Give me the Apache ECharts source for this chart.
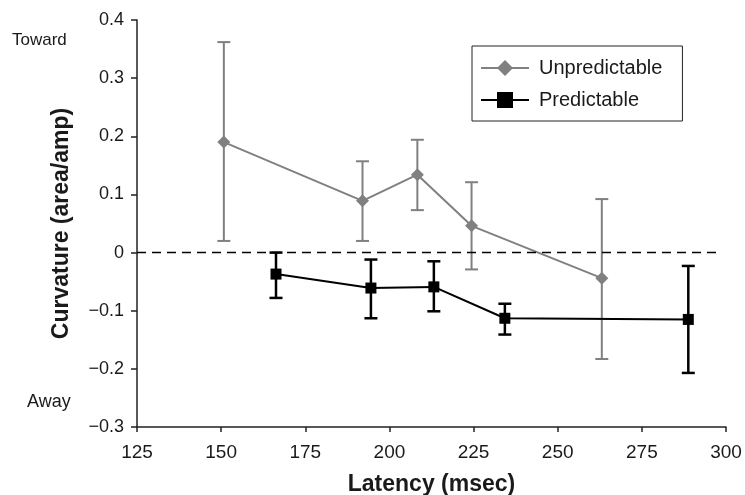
<!DOCTYPE html>
<html>
<head>
<meta charset="utf-8">
<script src="https://cdn.jsdelivr.net/npm/echarts@6/dist/echarts.min.js"></script>
<style>
html,body{margin:0;padding:0;background:#fff;}
#chartmain{width:745px;height:495px;}
</style>
</head>
<body>
<div id="chartmain"></div>
<script>
// 数据
var xTicks = [125, 150, 175, 200, 225, 250, 275, 300];
var yTicks = [-0.3, -0.2, -0.1, 0, 0.1, 0.2, 0.3, 0.4];

var unpredLatency = [150.8, 192.0, 208.3, 224.4, 263.1];
var unpredCurv    = [0.190, 0.089, 0.134, 0.046, -0.044];
var unpredLow     = [0.020, 0.020, 0.073, -0.029, -0.183];
var unpredHigh    = [0.362, 0.157, 0.194, 0.121, 0.092];

var predLatency = [166.3, 194.5, 213.2, 234.3, 288.8];
var predCurv    = [-0.037, -0.061, -0.059, -0.113, -0.115];
var predLow     = [-0.078, -0.113, -0.101, -0.141, -0.207];
var predHigh    = [0.000, -0.012, -0.015, -0.088, -0.023];

var grayColor = '#808080';
var font = 'Liberation Sans, Arial, sans-serif';

function pairs(xs, ys){
	var out = [];
	for (var i = 0; i < xs.length; i++) { out.push([xs[i], ys[i]]); }
	return out;
}
function triples(xs, lo, hi){
	var out = [];
	for (var i = 0; i < xs.length; i++) { out.push([xs[i], lo[i], hi[i]]); }
	return out;
}

// 误差线
function errorBar(color, width){
	return function(params, api){
		var x = api.value(0);
		var lo = api.coord([x, api.value(1)]);
		var hi = api.coord([x, api.value(2)]);
		var hw = 6.5;
		var style = {stroke: color, lineWidth: width};
		return {
			type: 'group',
			children: [
				{type: 'line', shape: {x1: lo[0], y1: lo[1], x2: hi[0], y2: hi[1]}, style: style},
				{type: 'line', shape: {x1: hi[0]-hw, y1: hi[1], x2: hi[0]+hw, y2: hi[1]}, style: style},
				{type: 'line', shape: {x1: lo[0]-hw, y1: lo[1], x2: lo[0]+hw, y2: lo[1]}, style: style}
			]
		};
	};
}

var myChart = echarts.init(document.getElementById('chartmain'));
var option = {
	backgroundColor: '#fff',
	animation: false,
	textStyle: {fontFamily: font, color: '#1a1a1a'},
	grid: {left: 137, right: 19, top: 20, bottom: 68, containLabel: false, outerBoundsMode: 'none'},
	legend: {
		data: ['Unpredictable', 'Predictable'],
		orient: 'vertical',
		left: 472,
		top: 46,
		padding: [12, 20, 11, 8],
		borderColor: '#222',
		borderWidth: 1,
		itemWidth: 48,
		itemHeight: 20,
		itemGap: 12,
		textStyle: {fontSize: 20, fontFamily: font, color: '#1a1a1a', padding: [0, 0, 0, 5]}
	},
	graphic: [
		{type: 'text', left: 12, top: 32, style: {text: 'Toward', fontSize: 17, fontFamily: font, fill: '#1a1a1a'}},
		{type: 'text', left: 27, top: 393, style: {text: 'Away', fontSize: 18, fontFamily: font, fill: '#1a1a1a'}}
	],
	xAxis: {
		type: 'value',
		min: xTicks[0],
		max: xTicks[xTicks.length - 1],
		interval: 25,
		name: 'Latency (msec)',
		nameLocation: 'middle',
		nameGap: 46,
		nameTextStyle: {fontSize: 23, fontWeight: 'bold', fontFamily: font, color: '#1a1a1a'},
		axisLine: {onZero: false, lineStyle: {color: '#222', width: 1.5}},
		axisTick: {show: true, length: 5, lineStyle: {color: '#222', width: 1.5}},
		axisLabel: {fontSize: 19, color: '#1a1a1a', margin: 16},
		splitLine: {show: false}
	},
	yAxis: {
		type: 'value',
		min: yTicks[0],
		max: yTicks[yTicks.length - 1],
		interval: 0.1,
		name: 'Curvature (area/amp)',
		nameLocation: 'middle',
		nameGap: 64,
		nameTextStyle: {fontSize: 23, fontWeight: 'bold', fontFamily: font, color: '#1a1a1a'},
		axisLine: {show: true, onZero: false, lineStyle: {color: '#222', width: 1.5}},
		axisTick: {show: true, length: 6, lineStyle: {color: '#222', width: 1.5}},
		axisLabel: {
			fontSize: 18, color: '#1a1a1a', margin: 13,
			formatter: function(v){
				if (Math.abs(v) < 1e-9) return '0';
				return v.toFixed(1).replace('-', '\u2212');
			}
		},
		splitLine: {show: false}
	},
	series: [
		{
			name: 'unpredErr',
			type: 'custom',
			renderItem: errorBar(grayColor, 2),
			data: triples(unpredLatency, unpredLow, unpredHigh),
			z: 1,
			silent: true
		},
		{
			name: 'predErr',
			type: 'custom',
			renderItem: errorBar('#000', 2.5),
			data: triples(predLatency, predLow, predHigh),
			z: 1,
			silent: true
		},
		{
			name: 'Unpredictable',
			type: 'line',
			data: pairs(unpredLatency, unpredCurv),
			symbol: 'diamond',
			symbolSize: 13,
			itemStyle: {color: grayColor},
			lineStyle: {color: grayColor, width: 2},
			z: 3,
			markLine: {
				silent: true,
				symbol: 'none',
				label: {show: false},
				lineStyle: {color: '#000', type: [9, 6], width: 1.3},
				data: [[{coord: [125, 0]}, {coord: [297.5, 0]}]]
			}
		},
		{
			name: 'Predictable',
			type: 'line',
			data: pairs(predLatency, predCurv),
			symbol: 'rect',
			symbolSize: 11,
			itemStyle: {color: '#000'},
			lineStyle: {color: '#000', width: 2},
			z: 4
		}
	]
};
myChart.setOption(option);
</script>
</body>
</html>
